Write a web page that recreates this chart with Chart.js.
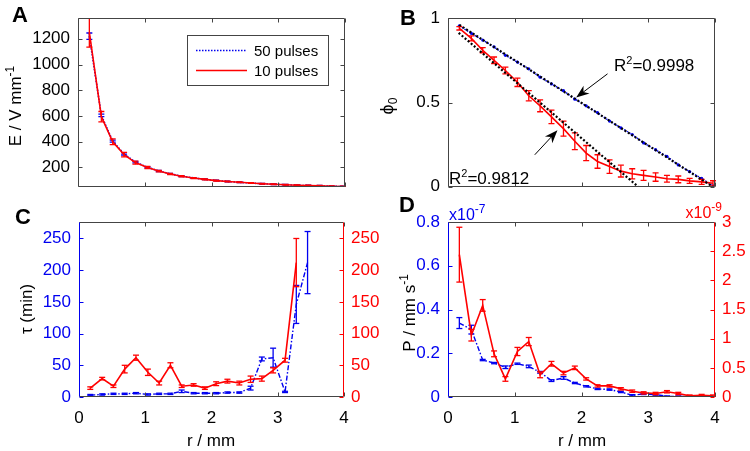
<!DOCTYPE html>
<html>
<head>
<meta charset="utf-8">
<script src="https://cdn.jsdelivr.net/npm/chart.js@4.4.1/dist/chart.umd.min.js"></script>
<style>
  html, body { margin: 0; padding: 0; background: #fff; }
  #fig { position: relative; width: 750px; height: 451px; overflow: hidden; background: #fff; }
  .panel { position: absolute; }
</style>
</head>
<body>
<div id="fig">
  <div class="panel" style="left:0;top:0;width:375px;height:205px"><canvas id="chartA"></canvas></div>
  <div class="panel" style="left:375px;top:0;width:375px;height:205px"><canvas id="chartB"></canvas></div>
  <div class="panel" style="left:0;top:195px;width:395px;height:256px"><canvas id="chartC"></canvas></div>
  <div class="panel" style="left:375px;top:190px;width:375px;height:261px"><canvas id="chartD"></canvas></div>
</div>
<script>
// ---- values ----
var radius = [0.17, 0.35, 0.52, 0.69, 0.86, 1.04, 1.21, 1.38, 1.55, 1.73, 1.90, 2.07,
  2.24, 2.42, 2.59, 2.76, 2.93, 3.11, 3.28, 3.45, 3.62, 3.80, 3.97];
var radiusTicks = [0, 1, 2, 3, 4];

// A: field strength E (V/mm)
var field50 = [1220, 605, 405, 305, 242, 202, 173, 151, 133, 119, 108, 99, 91, 85, 79, 74, 70, 66, 62, 59, 57, 54, 52];
var field50Err = [25, 10, 8, 8, 6, 5, 4, 3, 3, 3, 3, 3, 3, 3, 3, 3, 3, 3, 3, 3, 3, 3, 3];
var field10 = [1250, 595, 400, 300, 238, 200, 172, 150, 132, 118, 108, 98, 91, 85, 79, 74, 70, 66, 62, 59, 57, 54, 52];
var field10Err = [115, 40, 22, 18, 12, 8, 6, 5, 5, 4, 4, 4, 3, 3, 3, 3, 3, 3, 3, 3, 3, 3, 3];
var fieldTicks = [200, 400, 600, 800, 1000, 1200];

// B: phi_0
var phi50 = [0.955, 0.91, 0.87, 0.83, 0.78, 0.74, 0.70, 0.65, 0.61, 0.57, 0.52, 0.48,
  0.44, 0.39, 0.35, 0.31, 0.26, 0.22, 0.18, 0.13, 0.09, 0.05, 0.005];
var phi10 = [0.94, 0.88, 0.81, 0.75, 0.69, 0.62, 0.54, 0.48, 0.415, 0.345, 0.27, 0.20,
  0.15, 0.12, 0.093, 0.077, 0.068, 0.058, 0.048, 0.044, 0.035, 0.029, 0.021];
var phi10Err = [0.01, 0.015, 0.015, 0.02, 0.02, 0.025, 0.03, 0.035, 0.04, 0.045, 0.05, 0.045,
  0.04, 0.04, 0.035, 0.03, 0.03, 0.025, 0.02, 0.02, 0.015, 0.015, 0.015];
var fit50R = [0.17, 3.97];
var fit50Phi = [0.96, 0.0];
var fit10R = [0.16, 2.85];
var fit10Phi = [0.913, 0.0];
var phiTicks = [0, 0.5, 1];

// C: tau (min)
var tau50 = [3, 4, 5, 5, 6, 4, 5, 5, 9, 6, 6, 6, 7, 7, 14, 60, 62, 8, 146, 212];
var tau50Err = [1, 1, 1, 1, 1, 1, 1, 1, 2, 1, 1, 1, 1, 1, 3, 3, 15, 1, 30, 49];
var tau10 = [14, 29, 17, 44, 62, 39, 22, 50, 17, 19, 14, 21, 25, 22, 28, 29, 42, 58, 212];
var tau10Err = [2, 2, 2, 6, 4, 5, 3, 4, 2, 2, 2, 3, 3, 3, 5, 4, 4, 3, 38];
var tauTicks = [0, 50, 100, 150, 200, 250];

// D: permeability P (x1e-7 for 50 pulses, x1e-9 for 10 pulses)
var perm50 = [0.338, 0.308, 0.169, 0.155, 0.136, 0.152, 0.140, 0.113, 0.075, 0.087, 0.064, 0.049,
  0.037, 0.034, 0.023, 0.008, 0.014, 0.011, 0.003, 0.003, 0.003, 0.002, 0.001];
var perm50Err = [0.025, 0.02, 0.003, 0.003, 0.006, 0.003, 0.006, 0.004, 0.004, 0.006, 0.003, 0.003,
  0.003, 0.003, 0.003, 0.003, 0.003, 0.003, 0.002, 0.002, 0.002, 0.002, 0.002];
var perm10 = [2.44, 1.06, 1.57, 0.74, 0.31, 0.78, 0.95, 0.38, 0.57, 0.41, 0.50, 0.31,
  0.19, 0.19, 0.14, 0.10, 0.07, 0.06, 0.09, 0.06, 0.02, 0.03, 0.02];
var perm10Err = [0.47, 0.1, 0.1, 0.05, 0.04, 0.07, 0.07, 0.05, 0.04, 0.03, 0.03, 0.02,
  0.02, 0.02, 0.02, 0.02, 0.02, 0.02, 0.02, 0.02, 0.015, 0.015, 0.015];
var perm50Ticks = [0, 0.2, 0.4, 0.6, 0.8];
var perm10Ticks = [0, 0.5, 1, 1.5, 2, 2.5, 3];

var FONT = "'Liberation Sans', Arial, 'DejaVu Sans', sans-serif";
var BLUE = '#0000f0';
var RED = '#ff0000';
var AXIS = '#444444';

function toPoints(xs, ys) {
  return ys.map(function (y, i) { return { x: xs[i], y: y }; });
}

function fixedTicks(values) {
  return function (scale) {
    scale.ticks = values.map(function (v) { return { value: v }; });
  };
}

function strokeLine(ctx, color, x1, y1, x2, y2) {
  ctx.strokeStyle = color;
  ctx.beginPath();
  ctx.moveTo(x1, y1);
  ctx.lineTo(x2, y2);
  ctx.stroke();
}

// Text with super/subscripts; parts = [[text, size, rise]]
function drawRich(ctx, item, ox, oy) {
  var total = 0;
  var widths = item.parts.map(function (p) {
    ctx.font = (item.bold ? 'bold ' : '') + p[1] + 'px ' + FONT;
    var w = ctx.measureText(p[0]).width;
    total += w;
    return w;
  });
  ctx.save();
  ctx.translate(item.x - ox, item.y - oy);
  if (item.rotate) ctx.rotate(-Math.PI / 2);
  var cx = item.align === 'left' ? 0 : (item.align === 'right' ? -total : -total / 2);
  ctx.fillStyle = item.color || '#000';
  ctx.textBaseline = 'alphabetic';
  ctx.textAlign = 'left';
  item.parts.forEach(function (p, i) {
    ctx.font = (item.bold ? 'bold ' : '') + p[1] + 'px ' + FONT;
    ctx.fillText(p[0], cx, -(p[2] || 0));
    cx += widths[i];
  });
  ctx.restore();
}

// Error bars for any dataset that carries an `err` array.
var errorBars = {
  id: 'errorBars',
  afterDatasetDraw: function (chart, args) {
    var ds = chart.data.datasets[args.index];
    if (!ds.err) return;
    var meta = args.meta;
    var yScale = chart.scales[meta.yAxisID];
    var area = chart.chartArea;
    var ctx = chart.ctx;
    ctx.save();
    ctx.beginPath();
    ctx.rect(area.left - 4, area.top, area.right - area.left + 8, area.bottom - area.top);
    ctx.clip();
    ctx.lineWidth = 1.3;
    ctx.setLineDash([]);
    meta.data.forEach(function (pt, i) {
      var v = ds.data[i].y;
      var e = ds.err[i];
      var lo = yScale.getPixelForValue(v - e);
      var hi = yScale.getPixelForValue(v + e);
      strokeLine(ctx, ds.borderColor, pt.x, lo, pt.x, hi);
      strokeLine(ctx, ds.borderColor, pt.x - 3, lo, pt.x + 3, lo);
      strokeLine(ctx, ds.borderColor, pt.x - 3, hi, pt.x + 3, hi);
    });
    ctx.restore();
  }
};

// MATLAB style box with inward ticks on all sides.
var frame = {
  id: 'frame',
  afterDraw: function (chart, args, o) {
    var a = chart.chartArea;
    var ctx = chart.ctx;
    var len = 4;
    var xs = chart.scales.x;
    var yL = chart.scales.y;
    var yR = chart.scales.y1 || chart.scales.y;
    var L = Math.round(a.left) + 0.5, R = Math.round(a.right) - 0.5;
    var T = Math.round(a.top) + 0.5, B = Math.round(a.bottom) - 0.5;
    ctx.save();
    ctx.lineWidth = 1;
    ctx.setLineDash([]);
    xs.ticks.forEach(function (t) {
      var px = Math.round(xs.getPixelForValue(t.value)) + 0.5;
      strokeLine(ctx, o.bottom, px, B, px, B - len);
      strokeLine(ctx, o.top, px, T, px, T + len);
    });
    yL.ticks.forEach(function (t) {
      var py = Math.round(yL.getPixelForValue(t.value)) + 0.5;
      strokeLine(ctx, o.left, L, py, L + len, py);
    });
    yR.ticks.forEach(function (t) {
      var py = Math.round(yR.getPixelForValue(t.value)) + 0.5;
      strokeLine(ctx, o.right, R, py, R - len, py);
    });
    strokeLine(ctx, o.top, L, T, R, T);
    strokeLine(ctx, o.bottom, L, B, R, B);
    strokeLine(ctx, o.left, L, T, L, B);
    strokeLine(ctx, o.right, R, T, R, B);
    ctx.restore();
  }
};

// Free text (labels, axis titles) given in page coordinates.
var texts = {
  id: 'texts',
  afterDraw: function (chart, args, o) {
    (o.items || []).forEach(function (item) {
      drawRich(chart.ctx, item, o.ox, o.oy);
    });
  }
};

// Arrows in data coordinates (panel B).
var arrows = {
  id: 'arrows',
  afterDraw: function (chart, args, o) {
    var ctx = chart.ctx;
    var xs = chart.scales.x, ys = chart.scales.y;
    (o.items || []).forEach(function (ar) {
      var x1 = xs.getPixelForValue(ar.from[0]), y1 = ys.getPixelForValue(ar.from[1]);
      var x2 = xs.getPixelForValue(ar.to[0]), y2 = ys.getPixelForValue(ar.to[1]);
      var ang = Math.atan2(y2 - y1, x2 - x1);
      var hl = 13, hw = 5;
      ctx.save();
      ctx.lineWidth = 1;
      strokeLine(ctx, '#000', x1, y1, x2 - Math.cos(ang) * hl * 0.6, y2 - Math.sin(ang) * hl * 0.6);
      ctx.fillStyle = '#000';
      ctx.beginPath();
      ctx.moveTo(x2, y2);
      ctx.lineTo(x2 - Math.cos(ang) * hl - Math.sin(ang) * hw, y2 - Math.sin(ang) * hl + Math.cos(ang) * hw);
      ctx.lineTo(x2 - Math.cos(ang) * hl * 0.7, y2 - Math.sin(ang) * hl * 0.7);
      ctx.lineTo(x2 - Math.cos(ang) * hl + Math.sin(ang) * hw, y2 - Math.sin(ang) * hl - Math.cos(ang) * hw);
      ctx.closePath();
      ctx.fill();
      ctx.restore();
    });
  }
};

// Boxed legend (panel A).
var boxLegend = {
  id: 'boxLegend',
  afterDraw: function (chart, args, o) {
    if (!o.box) return;
    var ctx = chart.ctx;
    var b = o.box;
    ctx.save();
    ctx.fillStyle = '#fff';
    ctx.fillRect(b[0], b[1], b[2], b[3]);
    ctx.lineWidth = 1;
    ctx.strokeStyle = AXIS;
    ctx.strokeRect(b[0] + 0.5, b[1] + 0.5, b[2], b[3]);
    o.entries.forEach(function (e, i) {
      var ds = chart.data.datasets[e];
      var y = b[1] + 15.5 + i * 20;
      ctx.lineWidth = ds.borderWidth;
      ctx.setLineDash(ds.borderDash || []);
      strokeLine(ctx, ds.borderColor, b[0] + 9, y, b[0] + 60, y);
      ctx.setLineDash([]);
      ctx.fillStyle = '#000';
      ctx.font = '15px ' + FONT;
      ctx.textBaseline = 'middle';
      ctx.fillText(ds.label, b[0] + 67, y + 1);
    });
    ctx.restore();
  }
};

Chart.register(errorBars, frame, texts, arrows, boxLegend);

function yAxis(opts) {
  return {
    type: 'linear',
    position: opts.position || 'left',
    min: opts.min,
    max: opts.max,
    afterBuildTicks: fixedTicks(opts.ticks),
    afterFit: function (s) { s.width = opts.width; },
    grid: { display: false, drawTicks: false },
    border: { display: false },
    ticks: {
      display: true,
      autoSkip: false,
      padding: opts.padding || 8,
      color: opts.color || '#000',
      font: { family: FONT, size: 17 },
      callback: function (v) { return String(v); }
    }
  };
}

function xAxis(height, showLabels) {
  return {
    type: 'linear',
    min: 0,
    max: 4,
    afterBuildTicks: fixedTicks(radiusTicks),
    afterFit: function (s) { s.height = height; },
    grid: { display: false, drawTicks: false },
    border: { display: false },
    ticks: {
      display: showLabels,
      autoSkip: false,
      maxRotation: 0,
      padding: 11,
      color: '#000',
      font: { family: FONT, size: 17 },
      callback: function (v) { return String(v); }
    }
  };
}

function baseOptions(padding) {
  return {
    responsive: true,
    maintainAspectRatio: false,
    animation: false,
    layout: { padding: padding },
    elements: { point: { radius: 0 }, line: { tension: 0 } },
    plugins: { legend: { display: false }, tooltip: { enabled: false } }
  };
}

// ---- Panel A ----
var optsA = baseOptions({ top: 18, right: 30, left: 0, bottom: 0 });
optsA.scales = {
  x: xAxis(12, false),
  y: yAxis({ min: 50, max: 1360, ticks: fieldTicks, width: 78 })
};
optsA.plugins.frame = { top: AXIS, bottom: AXIS, left: AXIS, right: AXIS };
optsA.plugins.boxLegend = { box: [187, 35, 141, 50], entries: [1, 0] };
optsA.plugins.texts = {
  ox: 0, oy: 0,
  items: [
    { parts: [['A', 22]], x: 12, y: 22, align: 'left', bold: true },
    { parts: [['E / V mm', 17], ['-1', 12, 7]], x: 21, y: 106, rotate: true }
  ]
};
new Chart(document.getElementById('chartA'), {
  type: 'line',
  data: {
    datasets: [
      { label: '10 pulses', data: toPoints(radius, field10), err: field10Err,
        borderColor: RED, borderWidth: 1.6, order: 0 },
      { label: '50 pulses', data: toPoints(radius, field50), err: field50Err,
        borderColor: BLUE, borderWidth: 1.6, borderDash: [1.5, 1.5], order: 1 }
    ]
  },
  options: optsA
});

// ---- Panel B ----
var optsB = baseOptions({ top: 17, right: 35, left: 0, bottom: 0 });
optsB.scales = {
  x: xAxis(14, false),
  y: yAxis({ min: 0, max: 1, ticks: phiTicks, width: 73 })
};
optsB.plugins.frame = { top: AXIS, bottom: AXIS, left: AXIS, right: AXIS };
optsB.plugins.arrows = {
  items: [
    { from: [2.39, 0.67], to: [1.92, 0.53] },
    { from: [1.30, 0.19], to: [1.64, 0.335] }
  ]
};
optsB.plugins.texts = {
  ox: 375, oy: 0,
  items: [
    { parts: [['B', 22]], x: 400, y: 25, align: 'left', bold: true },
    { parts: [['\u03D5', 18], ['0', 12, -4]], x: 393, y: 106, rotate: true },
    { parts: [['R', 17], ['2', 11, 7], ['=0.9998', 17]], x: 614, y: 71, align: 'left' },
    { parts: [['R', 17], ['2', 11, 7], ['=0.9812', 17]], x: 449, y: 184, align: 'left' }
  ]
};
new Chart(document.getElementById('chartB'), {
  type: 'line',
  data: {
    datasets: [
      { label: 'fit 50', data: toPoints(fit50R, fit50Phi), borderColor: '#000',
        borderWidth: 2.2, borderDash: [2, 2], order: -1 },
      { label: 'fit 10', data: toPoints(fit10R, fit10Phi), borderColor: '#000',
        borderWidth: 2.2, borderDash: [2, 2], order: -1 },
      { label: '10 pulses', data: toPoints(radius, phi10), err: phi10Err,
        borderColor: RED, borderWidth: 1.6, order: 0 },
      { label: '50 pulses', data: toPoints(radius, phi50), borderColor: BLUE,
        borderWidth: 1.4, borderDash: [1.5, 1.5], pointRadius: 1.6,
        pointBackgroundColor: BLUE, pointBorderWidth: 0, order: 1 }
    ]
  },
  options: optsB
});

// ---- Panel C ----
var optsC = baseOptions({ top: 27, right: 0, left: 0, bottom: 0 });
optsC.scales = {
  x: xAxis(54, true),
  y: yAxis({ min: 0, max: 276, ticks: tauTicks, width: 79, color: BLUE }),
  y1: yAxis({ min: 0, max: 276, ticks: tauTicks, width: 51, color: RED, position: 'right', padding: 7 })
};
optsC.plugins.frame = { top: AXIS, bottom: AXIS, left: BLUE, right: RED };
optsC.plugins.texts = {
  ox: 0, oy: 195,
  items: [
    { parts: [['C', 22]], x: 15, y: 224, align: 'left', bold: true },
    { parts: [['\u03C4 (min)', 17]], x: 32, y: 309, rotate: true },
    { parts: [['r / mm', 17]], x: 211, y: 446 }
  ]
};
new Chart(document.getElementById('chartC'), {
  type: 'line',
  data: {
    datasets: [
      { label: '10 pulses', data: toPoints(radius, tau10), err: tau10Err,
        borderColor: RED, borderWidth: 1.6, yAxisID: 'y1', order: 0 },
      { label: '50 pulses', data: toPoints(radius, tau50), err: tau50Err,
        borderColor: BLUE, borderWidth: 1.4, borderDash: [5, 2, 1.5, 2], yAxisID: 'y', order: 1 }
    ]
  },
  options: optsC
});

// ---- Panel D ----
var optsD = baseOptions({ top: 32, right: 0, left: 0, bottom: 0 });
optsD.scales = {
  x: xAxis(54, true),
  y: yAxis({ min: 0, max: 0.8, ticks: perm50Ticks, width: 73, color: BLUE }),
  y1: yAxis({ min: 0, max: 3, ticks: perm10Ticks, width: 35, color: RED, position: 'right', padding: 7 })
};
optsD.plugins.frame = { top: AXIS, bottom: AXIS, left: BLUE, right: RED };
optsD.plugins.texts = {
  ox: 375, oy: 190,
  items: [
    { parts: [['D', 22]], x: 399, y: 212, align: 'left', bold: true },
    { parts: [['P / mm s', 17], ['-1', 12, 7]], x: 415, y: 313, rotate: true },
    { parts: [['r / mm', 17]], x: 582, y: 446 },
    { parts: [['x10', 16], ['-7', 12, 7]], x: 449, y: 220, align: 'left', color: BLUE },
    { parts: [['x10', 16], ['-9', 12, 7]], x: 722, y: 218, align: 'right', color: RED }
  ]
};
new Chart(document.getElementById('chartD'), {
  type: 'line',
  data: {
    datasets: [
      { label: '10 pulses', data: toPoints(radius, perm10), err: perm10Err,
        borderColor: RED, borderWidth: 1.6, yAxisID: 'y1', order: 0 },
      { label: '50 pulses', data: toPoints(radius, perm50), err: perm50Err,
        borderColor: BLUE, borderWidth: 1.4, borderDash: [5, 2, 1.5, 2], yAxisID: 'y', order: 1 }
    ]
  },
  options: optsD
});
</script>
</body>
</html>
